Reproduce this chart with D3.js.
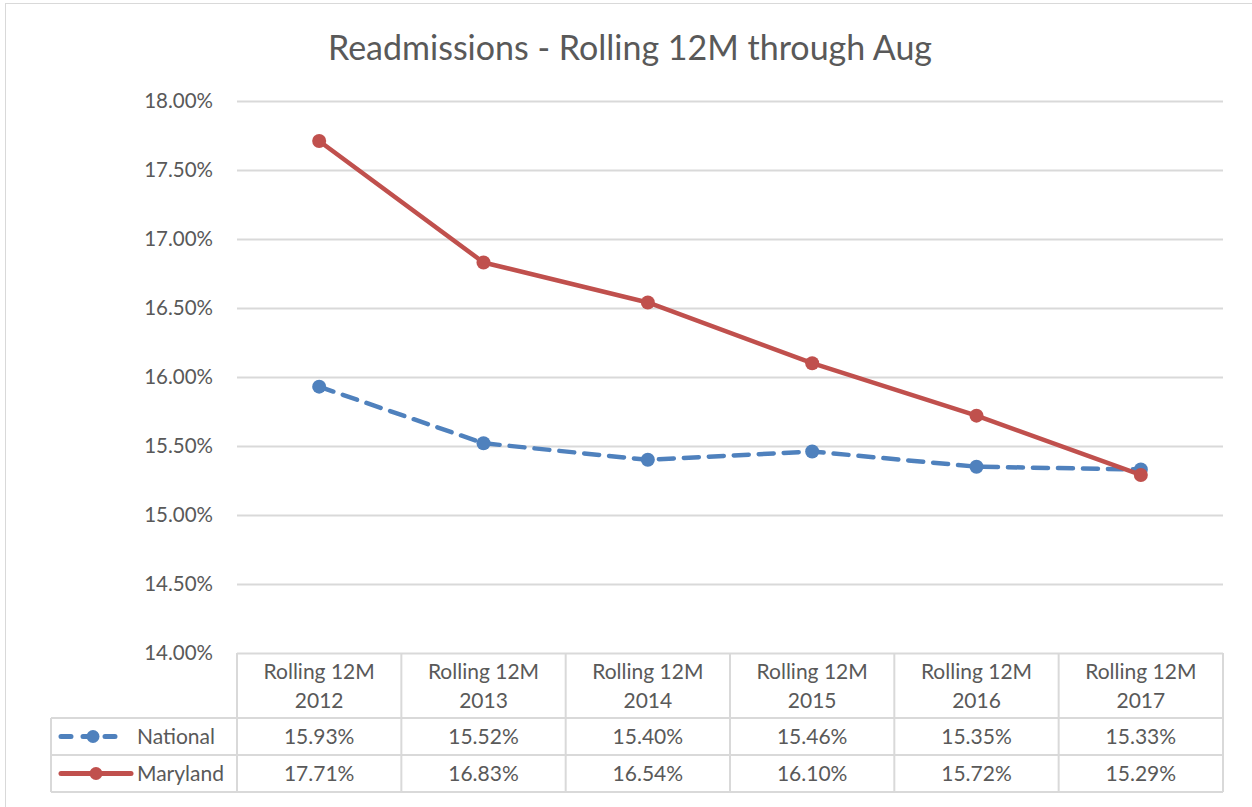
<!DOCTYPE html>
<html>
<head>
<meta charset="utf-8">
<script src="https://cdn.jsdelivr.net/npm/d3@7"></script>
<style>
  body { margin: 0; background: #fff; }
  text { font-family: Lato, "Open Sans", sans-serif; fill: #595959; }
</style>
</head>
<body>
<script>
// chart data
const categories = ["Rolling 12M 2012", "Rolling 12M 2013", "Rolling 12M 2014", "Rolling 12M 2015", "Rolling 12M 2016", "Rolling 12M 2017"];
const national = [15.93, 15.52, 15.40, 15.46, 15.35, 15.33];
const maryland = [17.71, 16.83, 16.54, 16.10, 15.72, 15.29];
const yTicks = [14, 14.5, 15, 15.5, 16, 16.5, 17, 17.5, 18];

const series = [
  {name: "National", values: national, color: "#4F81BD", dash: "15,10"},
  {name: "Maryland", values: maryland, color: "#C0504D", dash: null}
];

const W = 1252, H = 807;
const plot = {left: 237, right: 1223, top: 101, bottom: 653};
const rowH = [65, 37, 37];
const gridCol = "#d9d9d9";
const fs = "21px";

const svg = d3.select("body").append("svg")
  .attr("width", W)
  .attr("height", H);

svg.append("rect")
  .attr("x", 5.5).attr("y", 3.5)
  .attr("width", 1260).attr("height", 820)
  .attr("fill", "none").attr("stroke", gridCol);

svg.append("text")
  .attr("x", 630).attr("y", 60)
  .attr("text-anchor", "middle")
  .style("font-size", "34px")
  .text("Readmissions - Rolling 12M through Aug");

const x = d3.scaleBand().domain(categories).range([plot.left, plot.right]);
const y = d3.scaleLinear().domain([14, 18]).range([plot.bottom, plot.top]);

// gridlines + y labels
const yAxis = d3.axisLeft(y).tickValues(yTicks)
  .tickSize(-(plot.right - plot.left))
  .tickPadding(24)
  .tickFormat(d => d.toFixed(2) + "%");
const ga = svg.append("g")
  .attr("transform", `translate(${plot.left},0)`)
  .call(yAxis);
ga.select(".domain").remove();
ga.selectAll(".tick line").attr("stroke", gridCol).attr("stroke-width", 2);
ga.selectAll(".tick text").style("font-size", "20.5px").attr("fill", "#595959");

// data table
const tbl = svg.append("g");
const t0 = plot.bottom, t1 = t0 + rowH[0], t2 = t1 + rowH[1], t3 = t2 + rowH[2];
const legLeft = 51;
const lines = [
  [plot.left, t0, plot.left, t3],
  [legLeft, t1, plot.right, t1],
  [legLeft, t2, plot.right, t2],
  [legLeft, t3, plot.right, t3],
  [legLeft, t1, legLeft, t3],
  [plot.right, t0, plot.right, t3]
];
categories.forEach(c => lines.push([x(c), t0, x(c), t3]));
tbl.selectAll("line").data(lines).join("line")
  .attr("x1", d => d[0]).attr("y1", d => d[1])
  .attr("x2", d => d[2]).attr("y2", d => d[3])
  .attr("stroke", gridCol).attr("stroke-width", 2);

const hdr = tbl.selectAll("text.hdr").data(categories).join("text")
  .attr("class", "hdr")
  .attr("text-anchor", "middle")
  .style("font-size", fs);
hdr.append("tspan").attr("x", d => x(d) + x.bandwidth() / 2).attr("y", t0 + 26)
  .text(d => d.replace(/ \d{4}$/, ""));
hdr.append("tspan").attr("x", d => x(d) + x.bandwidth() / 2).attr("y", t0 + 55)
  .text(d => d.match(/\d{4}$/)[0]);

series.forEach((s, i) => {
  const ry = [t1, t2][i] + rowH[1] / 2;
  tbl.selectAll("text.v" + i).data(s.values).join("text")
    .attr("x", (d, j) => x(categories[j]) + x.bandwidth() / 2)
    .attr("y", ry + 7)
    .attr("text-anchor", "middle")
    .style("font-size", fs)
    .text(d => d.toFixed(2) + "%");
  tbl.append("line")
    .attr("x1", 61).attr("x2", s.dash ? 125 : 131)
    .attr("y1", ry).attr("y2", ry)
    .attr("stroke", s.color).attr("stroke-width", 5)
    .attr("stroke-linecap", "round")
    .attr("stroke-dasharray", s.dash ? "10,12" : null);
  tbl.append("circle")
    .attr("cx", s.dash ? 93 : 96).attr("cy", ry).attr("r", 6.5)
    .attr("fill", s.color);
  tbl.append("text")
    .attr("x", 137).attr("y", ry + 7)
    .style("font-size", fs)
    .text(s.name);
});

// lines
const line = d3.line()
  .x((d, j) => x(categories[j]) + x.bandwidth() / 2)
  .y(d => y(d));

series.forEach(s => {
  svg.append("path")
    .datum(s.values)
    .attr("d", line)
    .attr("fill", "none")
    .attr("stroke", s.color)
    .attr("stroke-width", 4.5)
    .attr("stroke-linejoin", "round")
    .attr("stroke-linecap", "round")
    .attr("stroke-dasharray", s.dash);
  svg.selectAll(null).data(s.values).join("circle")
    .attr("cx", (d, j) => x(categories[j]) + x.bandwidth() / 2)
    .attr("cy", d => y(d))
    .attr("r", 7)
    .attr("fill", s.color);
});
</script>
</body>
</html>
